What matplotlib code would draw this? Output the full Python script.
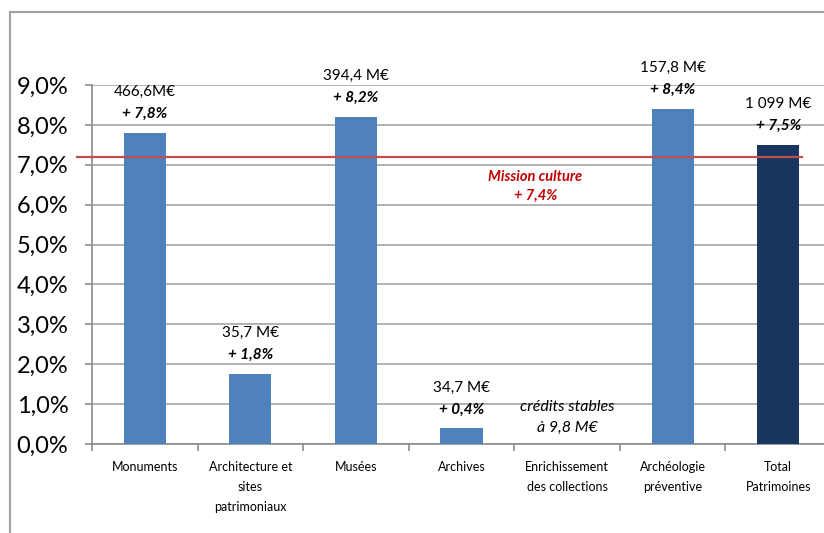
import matplotlib
matplotlib.use("Agg")
import matplotlib.pyplot as plt
from matplotlib.lines import Line2D

plt.rcParams['font.family'] = ['Lato', 'DejaVu Sans']

# données
categories = ["Monuments", "Architecture et\nsites\npatrimoniaux", "Musées", "Archives",
              "Enrichissement\ndes collections", "Archéologie\npréventive", "Total\nPatrimoines"]
hausse = [7.8, 1.75, 8.2, 0.39, 0.0, 8.4, 7.5]
montants = ["466,6M€", "35,7 M€", "394,4 M€", "34,7 M€", None, "157,8 M€", "1 099 M€"]
hausse_txt = ["+ 7,8%", "+ 1,8%", "+ 8,2%", "+ 0,4%", None, "+ 8,4%", "+ 7,5%"]
mission = 7.2
yticks = [0, 1, 2, 3, 4, 5, 6, 7, 8, 9]

bleu = "#4F81BD"
marine = "#17375E"
gris = "#8C8C8C"
rouge = "#C0504D"

fig = plt.figure(figsize=(8.24, 5.33), dpi=100)
ax = fig.add_axes([92 / 824, 89 / 533, 739 / 824, 359 / 533])

x = list(range(len(categories)))
couleurs = [bleu] * (len(categories) - 1) + [marine]
bars = ax.bar(x, hausse, width=0.4, color=couleurs, zorder=3)

ax.set_xlim(-0.5, len(categories) - 0.5)
ax.set_ylim(0, 9)
ax.set_yticks(yticks)
ax.set_yticklabels([f"{v},0%" for v in yticks], fontsize=17)
ax.yaxis.grid(True, color="#A6A6A6", linewidth=1.2, zorder=0)
ax.set_axisbelow(True)

ax.set_xticks(x)
ax.set_xticklabels(categories, fontsize=9, linespacing=1.8, va="top")
ax.set_xticks([i - 0.5 for i in range(len(categories) + 1)], minor=True)
ax.tick_params(axis="x", which="major", length=0, pad=12)
ax.tick_params(axis="x", which="minor", length=5, width=1.2, color=gris, direction="out")
ax.tick_params(axis="y", length=5, width=1.2, color=gris, direction="out", pad=12)

for s in ["top", "right"]:
    ax.spines[s].set_visible(False)
for s in ["left", "bottom"]:
    ax.spines[s].set_color(gris)
    ax.spines[s].set_linewidth(1.2)

# étiquettes au-dessus des barres
for xi, h, m, t in zip(x, hausse, montants, hausse_txt):
    if m is None:
        continue
    ax.annotate(t, (xi, h), xytext=(0, 19), textcoords="offset pixels",
                ha="center", va="center", fontsize=11, fontweight="bold", fontstyle="italic")
    ax.annotate(m, (xi, h), xytext=(0, 41), textcoords="offset pixels",
                ha="center", va="center", fontsize=11)

ax.text(4, 0.93, "crédits stables", ha="center", va="center", fontsize=11.5, fontstyle="italic")
ax.text(4, 0.40, "à 9,8 M€", ha="center", va="center", fontsize=11.5, fontstyle="italic")

# ligne Mission culture
ax.axhline(mission, xmin=-0.02, xmax=0.961, color=rouge, linewidth=1.6, zorder=4, clip_on=False)
ax.text(3.7, 6.7, "Mission culture", color="#C00000", ha="center", va="center",
        fontsize=10.5, fontweight="bold", fontstyle="italic")
ax.text(3.7, 6.23, "+ 7,4%", color="#C00000", ha="center", va="center",
        fontsize=10.5, fontweight="bold", fontstyle="italic")

# cadre du graphique
fig.add_artist(Line2D([10 / 824, 10 / 824], [0, 1 - 12 / 533], transform=fig.transFigure,
                      color="#A0A0A0", linewidth=1.5))
fig.add_artist(Line2D([10 / 824, 1], [1 - 12 / 533, 1 - 12 / 533], transform=fig.transFigure,
                      color="#A0A0A0", linewidth=1.5))

fig.savefig("out.png", dpi=100)
